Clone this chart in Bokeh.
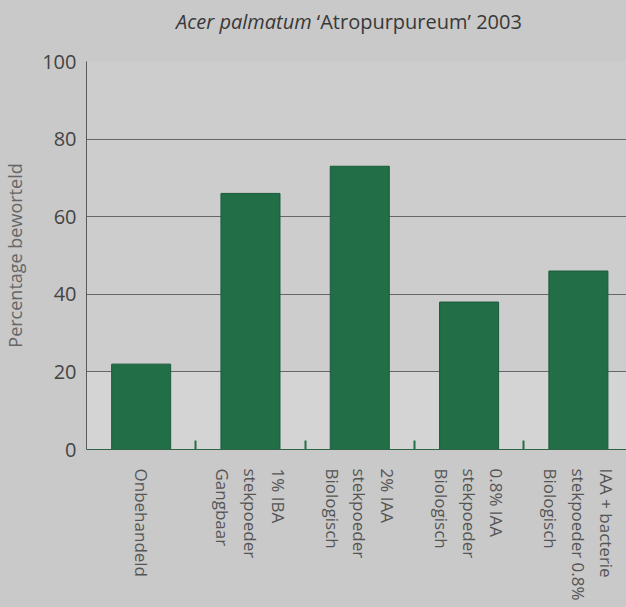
from bokeh.plotting import figure
from bokeh.models import Range1d, FixedTicker, BoxAnnotation, ColumnDataSource, Div
from bokeh.layouts import column
from bokeh.embed import file_html
from bokeh.resources import INLINE

categories = ["Onbehandeld",
              "Gangbaar\nstekpoeder\n1% IBA",
              "Biologisch\nstekpoeder\n2% IAA",
              "Biologisch\nstekpoeder\n0.8% IAA",
              "Biologisch\nstekpoeder 0.8%\nIAA + bacterie"]
values = [22, 66, 73, 38, 46]
y_ticks = [0, 20, 40, 60, 80, 100]
title_species = "Acer palmatum"
title_rest = "\u2018Atropurpureum\u2019 2003"

FONT = "Open Sans"
GREEN = "#226e47"
BG = "#c9c9c9"

n = len(categories)
centers = [i + 0.5 for i in range(n)]
bounds = [i + 1 for i in range(n - 1)]

TITLE_H = 42
title = Div(text=(f'<div style="box-sizing:border-box;padding-top:12px;padding-left:72px;'
                  f'width:626px;text-align:center;line-height:20px;">'
                  f"<i>{title_species}</i> {title_rest}</div>"),
            width=626, height=TITLE_H, margin=0,
            styles={"font-family": "Open Sans", "font-size": "20px", "color": "#383838",
                    "background-color": BG, "overflow": "hidden"})

p = figure(width=626, height=607 - TITLE_H, output_backend="svg", toolbar_location=None,
           x_range=Range1d(0, 4.94), y_range=Range1d(0, 100),
           min_border_left=86, min_border_top=61 - TITLE_H, min_border_bottom=158,
           min_border_right=0, margin=0)
p.background_fill_color = "#cdcdcd"
p.border_fill_color = BG
p.outline_line_color = None

p.add_layout(BoxAnnotation(bottom=0, top=20, fill_color="#d4d4d4", fill_alpha=1.0,
                           line_color=None, level="underlay"))

src = ColumnDataSource(dict(x=centers, top=values))
p.vbar(x="x", top="top", width=0.54, bottom=0, source=src,
       fill_color=GREEN, line_color="#1a5a3b", line_width=1)

# grid
p.xgrid.grid_line_color = None
p.ygrid.ticker = FixedTicker(ticks=y_ticks)
p.ygrid.grid_line_color = "#666666"
p.ygrid.grid_line_width = 1

# y axis
p.yaxis.ticker = FixedTicker(ticks=y_ticks)
p.yaxis.axis_line_color = "#5a5a5a"
p.yaxis.major_tick_line_color = None
p.yaxis.major_tick_out = 0
p.yaxis.major_tick_in = 0
p.yaxis.minor_tick_line_color = None
p.yaxis.minor_tick_out = 0
p.yaxis.major_label_text_font = FONT
p.yaxis.major_label_text_font_size = "20px"
p.yaxis.major_label_text_color = "#444444"
p.yaxis.major_label_standoff = 10
p.yaxis.axis_label = "Percentage beworteld"
p.yaxis.axis_label_text_font = FONT
p.yaxis.axis_label_text_font_style = "normal"
p.yaxis.axis_label_text_font_size = "18px"
p.yaxis.axis_label_text_color = "#666666"
p.yaxis.axis_label_standoff = 12

# x axis (multi-line labels; line order reversed for the vertical rendering)
p.xaxis.ticker = FixedTicker(ticks=centers, minor_ticks=bounds)
p.xaxis.major_label_overrides = {c: "\n".join(reversed(lab.split("\n")))
                                 for c, lab in zip(centers, categories)}
p.xaxis.major_label_orientation = "vertical"
p.xaxis.major_label_text_font = FONT
p.xaxis.major_label_text_font_size = "17px"
p.xaxis.major_label_text_color = "#555555"
p.xaxis.major_label_standoff = 19
p.xaxis.axis_line_color = "#2f6447"
p.xaxis.axis_line_width = 1
p.xaxis.major_tick_line_color = None
p.xaxis.major_tick_out = 0
p.xaxis.major_tick_in = 0
p.xaxis.minor_tick_line_color = GREEN
p.xaxis.minor_tick_line_width = 2
p.xaxis.minor_tick_in = 9
p.xaxis.minor_tick_out = 0

layout = column(title, p, spacing=0, margin=0, styles={"background-color": BG})

html = file_html(layout, INLINE)
html = html.replace("<head>", f"<head><style>html,body{{margin:0;background:{BG};}}</style>", 1)
open("out.html", "w").write(html)
